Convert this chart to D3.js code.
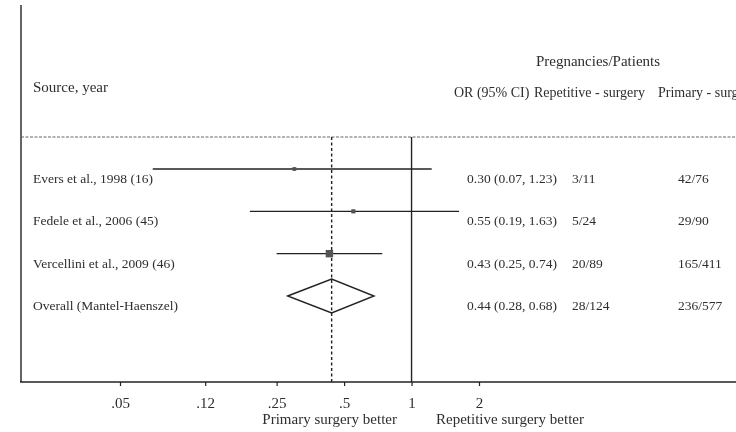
<!DOCTYPE html>
<html>
<head>
<meta charset="utf-8">
<script src="https://cdn.jsdelivr.net/npm/d3@7"></script>
<style>
  html, body { margin: 0; padding: 0; background: #fff; }
  svg { display: block; }
  text { font-family: "Liberation Serif", "DejaVu Serif", serif; fill: #2e2e2e; }
</style>
</head>
<body>
<svg id="chart" width="736" height="432"></svg>
<script>
// Study rows of the forest plot
const studies = ["Evers et al., 1998 (16)", "Fedele et al., 2006 (45)", "Vercellini et al., 2009 (46)"];
const oddsRatio = [0.30, 0.55, 0.43];
const ciLow = [0.07, 0.19, 0.25];
const ciHigh = [1.23, 1.63, 0.74];
const ratioLabels = ["0.30 (0.07, 1.23)", "0.55 (0.19, 1.63)", "0.43 (0.25, 0.74)"];
const repetitive = ["3/11", "5/24", "20/89"];
const primary = ["42/76", "29/90", "165/411"];
const studyWeight = [1, 1.2, 3];

// Pooled estimate
const overallLabel = "Overall (Mantel-Haenszel)";
const overallOR = 0.44;
const overallLow = 0.28;
const overallHigh = 0.68;
const overallRatioLabel = "0.44 (0.28, 0.68)";
const overallRepetitive = "28/124";
const overallPrimary = "236/577";

// Column headers
const columnHeaders = ["OR (95% CI)", "Repetitive - surgery", "Primary - surgery"];

// Odds-ratio axis
const tickValues = [0.05, 0.12, 0.25, 0.5, 1, 2];
const tickLabels = [".05", ".12", ".25", ".5", "1", "2"];

const svg = d3.select("#chart");
const defs = svg.append("defs");
defs.append("filter").attr("id", "soft").attr("x", "-5%").attr("y", "-5%").attr("width", "110%").attr("height", "110%")
  .append("feGaussianBlur").attr("stdDeviation", 0.35);
const root = svg.append("g").attr("filter", "url(#soft)");
const ink = "#222";
const rowFont = 13.5;

const x = d3.scaleLog().domain([0.05, 2]).range([120, 479]);
const rows = [...studies, overallLabel];
const y = d3.scalePoint().domain(rows).range([169, 296]);
const textShift = 14;
const axisY = 382;
const headerRuleY = 137;

// Frame: left rule and bottom axis line
root.append("line").attr("x1", 21).attr("x2", 21).attr("y1", 5).attr("y2", axisY)
  .attr("stroke", ink).attr("stroke-width", 1.4);
root.append("line").attr("x1", 20).attr("x2", 736).attr("y1", axisY).attr("y2", axisY)
  .attr("stroke", ink).attr("stroke-width", 1.5);

// Dotted rule under the header
root.append("line").attr("x1", 21).attr("x2", 736).attr("y1", headerRuleY).attr("y2", headerRuleY)
  .attr("stroke", "#666").attr("stroke-width", 1).attr("stroke-dasharray", "3,1.5");

// Headers
root.append("text").attr("x", 33).attr("y", 92).attr("font-size", 15).text("Source, year");
root.append("text").attr("x", 598).attr("y", 66).attr("font-size", 15).attr("text-anchor", "middle")
  .text("Pregnancies/Patients");
const headerX = [454, 534, 658];
columnHeaders.forEach((h, i) => {
  root.append("text").attr("x", headerX[i]).attr("y", 97).attr("font-size", 14).text(h);
});

// Reference line at OR = 1 and dashed line at pooled OR
root.append("line").attr("x1", x(1)).attr("x2", x(1)).attr("y1", headerRuleY).attr("y2", axisY)
  .attr("stroke", ink).attr("stroke-width", 1.4);
root.append("line").attr("x1", x(overallOR)).attr("x2", x(overallOR)).attr("y1", headerRuleY).attr("y2", axisY)
  .attr("stroke", ink).attr("stroke-width", 1.4).attr("stroke-dasharray", "3,2.5");

// Data columns on the right
const colX = [467, 572, 678];

// Study confidence intervals and point markers
studies.forEach((s, i) => {
  const yy = y(s);
  root.append("line").attr("x1", x(ciLow[i])).attr("x2", x(ciHigh[i])).attr("y1", yy).attr("y2", yy)
    .attr("stroke", ink).attr("stroke-width", 1.3);
  const sz = 2 + studyWeight[i] * 1.8;
  root.append("rect").attr("x", x(oddsRatio[i]) - sz / 2).attr("y", yy - sz / 2)
    .attr("width", sz).attr("height", sz).attr("fill", "#555");
  root.append("text").attr("x", 33).attr("y", yy + textShift).attr("font-size", rowFont).text(s);
  [ratioLabels[i], repetitive[i], primary[i]].forEach((t, j) => {
    root.append("text").attr("x", colX[j]).attr("y", yy + textShift).attr("font-size", rowFont).text(t);
  });
});

// Pooled diamond
const yo = y(overallLabel);
const half = 17;
root.append("path")
  .attr("d", `M${x(overallLow)},${yo} L${x(overallOR)},${yo - half} L${x(overallHigh)},${yo} L${x(overallOR)},${yo + half} Z`)
  .attr("fill", "none").attr("stroke", ink).attr("stroke-width", 1.4);
root.append("text").attr("x", 33).attr("y", yo + textShift).attr("font-size", rowFont).text(overallLabel);
[overallRatioLabel, overallRepetitive, overallPrimary].forEach((t, j) => {
  root.append("text").attr("x", colX[j]).attr("y", yo + textShift).attr("font-size", rowFont).text(t);
});

// Bottom axis ticks
const axis = d3.axisBottom(x).tickValues(tickValues).tickSize(4)
  .tickFormat((d, i) => tickLabels[i]);
const ag = root.append("g").attr("transform", `translate(0,${axisY})`).call(axis);
ag.select(".domain").remove();
ag.selectAll(".tick line").attr("stroke", ink).attr("stroke-width", 1.2);
ag.selectAll(".tick text").attr("font-size", 15).attr("dy", 0).attr("y", 26)
  .style("font-family", "Liberation Serif, serif").attr("fill", "#2e2e2e");

// Direction labels
root.append("text").attr("x", 397).attr("y", 424).attr("font-size", 15).attr("text-anchor", "end")
  .text("Primary surgery better");
root.append("text").attr("x", 436).attr("y", 424).attr("font-size", 15)
  .text("Repetitive surgery better");
</script>
</body>
</html>
